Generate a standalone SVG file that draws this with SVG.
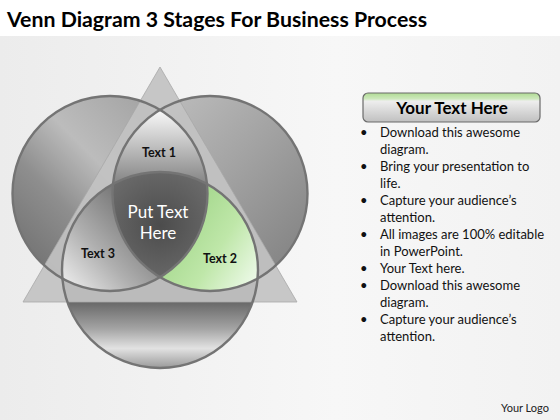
<svg xmlns="http://www.w3.org/2000/svg" width="560" height="420" viewBox="0 0 560 420">
<style>
.title{font-family:Lato,"Liberation Sans",sans-serif;font-weight:bold;font-size:21.5px;fill:#000}
.lbl{font-family:Lato,"Liberation Sans",sans-serif;font-weight:bold;font-size:12.5px;fill:#111;text-anchor:middle}
.ctr{font-family:Lato,"Liberation Sans",sans-serif;font-size:17px;fill:#fff;text-anchor:middle}
.hdr{font-family:Lato,"Liberation Sans",sans-serif;font-weight:bold;font-size:17px;fill:#000;text-anchor:middle}
.bul{font-family:Lato,"Liberation Sans",sans-serif;font-size:13px;fill:#111}
.logo{font-family:Lato,"Liberation Sans",sans-serif;font-size:11px;fill:#222}
.outline{fill:none;stroke:#747474;stroke-width:2.4}
</style>
<defs>
<linearGradient id="bg" x1="0" y1="0" x2="1" y2="0">
<stop offset="0" stop-color="#ececec"/><stop offset="0.6" stop-color="#f7f7f7"/><stop offset="1" stop-color="#f2f2f2"/>
</linearGradient>
<linearGradient id="gL" x1="0" y1="1" x2="1" y2="0">
<stop offset="0" stop-color="#666666"/><stop offset="0.35" stop-color="#8e8e8e"/><stop offset="0.55" stop-color="#bcbcbc"/><stop offset="1" stop-color="#969696"/>
</linearGradient>
<linearGradient id="gR" x1="0" y1="0" x2="1" y2="1">
<stop offset="0" stop-color="#c6c6c6"/><stop offset="0.5" stop-color="#a2a2a2"/><stop offset="1" stop-color="#7c7c7c"/>
</linearGradient>
<linearGradient id="gB" x1="0" y1="0" x2="0" y2="1">
<stop offset="0" stop-color="#8a8a8a"/><stop offset="0.66" stop-color="#666666"/><stop offset="0.8" stop-color="#a4a4a4"/><stop offset="0.9" stop-color="#e2e2e2"/><stop offset="1" stop-color="#9a9a9a"/>
</linearGradient>
<linearGradient id="g1" gradientUnits="userSpaceOnUse" x1="0" y1="112" x2="0" y2="190">
<stop offset="0" stop-color="#f6f6f6"/><stop offset="1" stop-color="#7a7a7a"/>
</linearGradient>
<linearGradient id="g3" gradientUnits="userSpaceOnUse" x1="62" y1="290" x2="160" y2="200">
<stop offset="0" stop-color="#f2f2f2"/><stop offset="0.4" stop-color="#b0b0b0"/><stop offset="1" stop-color="#5e5e5e"/>
</linearGradient>
<linearGradient id="g2" gradientUnits="userSpaceOnUse" x1="165" y1="220" x2="258" y2="280">
<stop offset="0" stop-color="#9ed486"/><stop offset="0.55" stop-color="#bfe7a9"/><stop offset="1" stop-color="#eefaea"/>
</linearGradient>
<radialGradient id="gC" gradientUnits="userSpaceOnUse" cx="160" cy="225" r="60">
<stop offset="0" stop-color="#4c4c4c"/><stop offset="1" stop-color="#6a6a6a"/>
</radialGradient>
<linearGradient id="gH" x1="0" y1="0" x2="0" y2="1">
<stop offset="0" stop-color="#b0db94"/><stop offset="0.2" stop-color="#cde8bc"/><stop offset="0.28" stop-color="#eeeeee"/><stop offset="1" stop-color="#c0c0c0"/>
</linearGradient>
<clipPath id="cL"><circle cx="110" cy="193.5" r="97.5"/></clipPath>
<clipPath id="cR"><circle cx="210" cy="193.5" r="97.5"/></clipPath>
</defs>
<rect x="0" y="0" width="560" height="420" fill="url(#bg)"/>
<rect x="0" y="0" width="560" height="36" fill="#ffffff"/>
<text class="title" x="7" y="27" textLength="420" lengthAdjust="spacingAndGlyphs">Venn Diagram 3 Stages For Business Process</text>

<g id="big-circles">
<circle id="circle-left" cx="110" cy="193.5" r="97.5" fill="url(#gL)"/>
<circle id="circle-right" cx="210" cy="193.5" r="97.5" fill="url(#gR)"/>
<circle id="circle-bottom" cx="160" cy="270" r="98" fill="url(#gB)"/>
</g>
<polygon id="triangle" points="160,67 23,302 297,302" fill="#c2c2c2" fill-opacity="0.92" stroke="#a8a8a8" stroke-width="0.8"/>

<g id="region-text1">
<circle cx="210" cy="193.5" r="97.5" fill="url(#g1)" clip-path="url(#cL)"/>
</g>
<g id="region-text3">
<circle cx="160" cy="270" r="98" fill="url(#g3)" clip-path="url(#cL)"/>
</g>
<g id="region-text2">
<circle cx="160" cy="270" r="98" fill="url(#g2)" clip-path="url(#cR)"/>
</g>
<g id="region-center" clip-path="url(#cR)">
<circle cx="160" cy="270" r="98" fill="url(#gC)" clip-path="url(#cL)"/>
</g>

<g id="connectors">
<circle class="outline" cx="110" cy="193.5" r="97.5"/>
<circle class="outline" cx="210" cy="193.5" r="97.5"/>
<circle class="outline" cx="160" cy="270" r="98"/>
</g>

<text class="lbl" x="159" y="157">Text 1</text>
<text class="ctr" x="158" y="218">Put Text</text>
<text class="ctr" x="158" y="239">Here</text>
<text class="lbl" x="98" y="258">Text 3</text>
<text class="lbl" x="220" y="263">Text 2</text>

<g id="header">
<rect x="363" y="93" width="177" height="29" rx="5" fill="url(#gH)" stroke="#6a6a6a" stroke-width="1.2"/>
<text class="hdr" x="452" y="113.5">Your Text Here</text>
</g>
<g id="bullets" class="bul">
<text x="360" y="137">•</text><text x="380" y="137">Download this awesome</text>
<text x="380" y="154">diagram.</text>
<text x="360" y="171">•</text><text x="380" y="171">Bring your presentation to</text>
<text x="380" y="188">life.</text>
<text x="360" y="205">•</text><text x="380" y="205">Capture your audience’s</text>
<text x="380" y="222">attention.</text>
<text x="360" y="239">•</text><text x="380" y="239">All images are 100% editable</text>
<text x="380" y="256">in PowerPoint.</text>
<text x="360" y="273">•</text><text x="380" y="273">Your Text here.</text>
<text x="360" y="290">•</text><text x="380" y="290">Download this awesome</text>
<text x="380" y="307">diagram.</text>
<text x="360" y="324">•</text><text x="380" y="324">Capture your audience’s</text>
<text x="380" y="341">attention.</text>
</g>
<text class="logo" x="501" y="412">Your Logo</text>
</svg>
